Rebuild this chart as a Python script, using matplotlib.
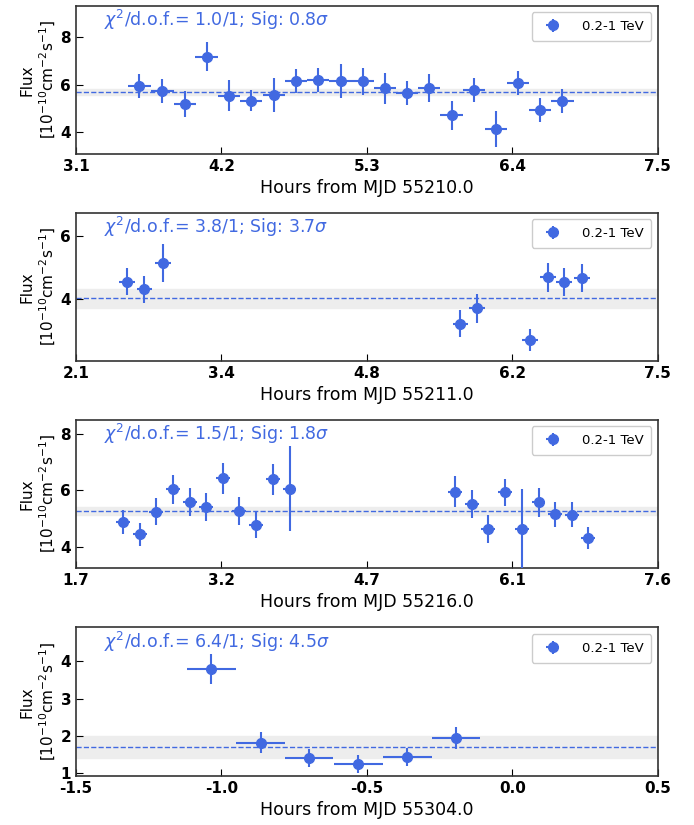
import matplotlib
matplotlib.use("Agg")
import matplotlib.pyplot as plt

col = "royalblue"

# panel 1, MJD 55210
t1 = [3.58, 3.754, 3.925, 4.087, 4.254, 4.425, 4.597, 4.764, 4.932, 5.10,
      5.268, 5.436, 5.603, 5.77, 5.94, 6.107, 6.274, 6.442, 6.61, 6.778]
f1 = [5.96, 5.75, 5.2, 7.16, 5.54, 5.33, 5.56, 6.13, 6.21, 6.14,
      6.13, 5.85, 5.65, 5.86, 4.71, 5.76, 4.15, 6.07, 4.95, 5.3]
e1 = [0.5, 0.5, 0.55, 0.6, 0.65, 0.45, 0.7, 0.5, 0.5, 0.7,
      0.55, 0.65, 0.5, 0.6, 0.6, 0.5, 0.75, 0.5, 0.5, 0.5]
xl1 = ["3.1", "4.2", "5.3", "6.4", "7.5"]

# panel 2, MJD 55211
t2 = [2.574, 2.734, 2.907, 5.667, 5.82, 6.313, 6.478, 6.63, 6.795]
f2 = [4.55, 4.30, 5.125, 3.22, 3.70, 2.70, 4.68, 4.53, 4.66]
e2 = [0.42, 0.42, 0.6, 0.43, 0.45, 0.35, 0.45, 0.45, 0.45]
xl2 = ["2.1", "3.4", "4.8", "6.2", "7.5"]

# panel 3, MJD 55216
t3 = [2.18, 2.348, 2.515, 2.686, 2.852, 3.019, 3.19, 3.356, 3.523, 3.698,
      3.865, 5.543, 5.714, 5.88, 6.047, 6.223, 6.39, 6.556, 6.727, 6.894]
f3 = [4.885, 4.44, 5.24, 6.03, 5.59, 5.40, 6.43, 5.26, 4.78, 6.39,
      6.06, 5.94, 5.51, 4.63, 5.92, 4.62, 5.57, 5.15, 5.14, 4.31]
e3 = [0.42, 0.4, 0.48, 0.5, 0.5, 0.5, 0.55, 0.5, 0.48, 0.55,
      1.5, 0.55, 0.5, 0.48, 0.48, 1.43, 0.5, 0.45, 0.45, 0.4]
xl3 = ["1.7", "3.2", "4.7", "6.1", "7.6"]

# panel 4, MJD 55304
t4 = [-1.035, -0.865, -0.699, -0.53, -0.362, -0.194]
f4 = [3.79, 1.82, 1.41, 1.26, 1.44, 1.94]
e4 = [0.4, 0.28, 0.24, 0.24, 0.24, 0.3]
xl4 = ["-1.5", "-1.0", "-0.5", "0.0", "0.5"]

panels = [
    dict(t=t1, f=f1, e=e1, xl=xl1, xerr=0.084, mean=5.68, band=0.13, mjd="55210.0",
         chi="1.0/1", sig="0.8", xlim=(3.1, 7.5), ylim=(3.1, 9.3), yt=[4, 6, 8]),
    dict(t=t2, f=f2, e=e2, xl=xl2, xerr=0.072, mean=4.02, band=0.30, mjd="55211.0",
         chi="3.8/1", sig="3.7", xlim=(2.1, 7.5), ylim=(2.04, 6.73), yt=[4, 6]),
    dict(t=t3, f=f3, e=e3, xl=xl3, xerr=0.07, mean=5.26, band=0.15, mjd="55216.0",
         chi="1.5/1", sig="1.8", xlim=(1.7, 7.6), ylim=(3.25, 8.5), yt=[4, 6, 8]),
    dict(t=t4, f=f4, e=e4, xl=xl4, xerr=0.084, mean=1.71, band=0.29, mjd="55304.0",
         chi="6.4/1", sig="4.5", xlim=(-1.5, 0.5), ylim=(0.93, 4.9), yt=[1, 2, 3, 4]),
]

fig = plt.figure(figsize=(6.94, 8.25), dpi=100)
bottoms = [0.8133, 0.5624, 0.3115, 0.0594]

for p, b in zip(panels, bottoms):
    ax = fig.add_axes([0.1095, b, 0.8385, 0.18])
    x0, x1 = p["xlim"]
    ax.axhspan(p["mean"] - p["band"], p["mean"] + p["band"], color="0.93", zorder=0)
    ax.axhline(p["mean"], color=col, ls="--", lw=1, zorder=1)
    ax.errorbar(p["t"], p["f"], yerr=p["e"], xerr=p["xerr"], fmt="o", color=col,
                ms=7, elinewidth=1.5, capsize=0, label="0.2-1 TeV", zorder=3)
    ax.set_xlim(x0, x1)
    ax.set_ylim(*p["ylim"])
    ax.set_xticks([x0 + i * (x1 - x0) / 4 for i in range(5)])
    ax.set_xticklabels(p["xl"])
    ax.set_yticks(p["yt"])
    ax.tick_params(direction="in", labelsize=11, length=5)
    for lab in ax.get_xticklabels() + ax.get_yticklabels():
        lab.set_fontweight("bold")
    for s in ax.spines.values():
        s.set_color("0.2")
        s.set_linewidth(1.2)
    ax.set_xlabel("Hours from MJD " + p["mjd"], fontsize=12.5)
    ax.set_ylabel("Flux\n[10$^{-10}$cm$^{-2}$s$^{-1}$]", fontsize=11, labelpad=2)
    ax.text(0.048, 0.905, r"$\chi^2$/d.o.f.= " + p["chi"] + "; Sig: " + p["sig"] + r"$\sigma$",
            transform=ax.transAxes, color=col, fontsize=12.5, va="center")
    ax.legend(loc="upper right", fontsize=9.5, framealpha=1, edgecolor="0.8",
              borderpad=0.6, handletextpad=1.2)

fig.savefig("out.png", dpi=100)
